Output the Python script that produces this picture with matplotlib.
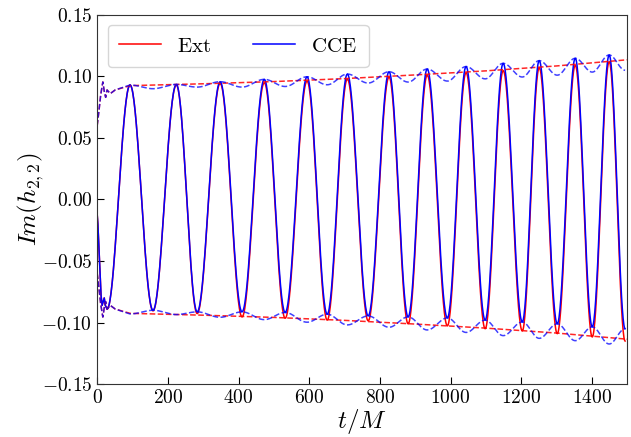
import numpy as np
import matplotlib
matplotlib.use('Agg')
from matplotlib import pyplot as plt
from matplotlib.ticker import FuncFormatter

# Werte
# Anfangsstueck (junk radiation), beide Kurven fast gleich
t_early = [0, 2, 5, 8, 11, 14, 17, 20, 23]
h_early = [-0.012, -0.020, -0.040, -0.062, -0.078, -0.086, -0.083, -0.080, -0.086]

# Zeiten der Maxima und Minima
t_peak = [93, 224, 348, 473, 594, 708, 826, 934, 1044, 1149, 1251, 1353, 1449]
t_trough = [28, 158, 283, 410, 532, 651, 767, 880, 991, 1098, 1203, 1302, 1401, 1494]

# Ext
ext_peak = [0.0930, 0.0930, 0.0943, 0.0948, 0.0962, 0.0978, 0.0995, 0.1010,
            0.1030, 0.1047, 0.1070, 0.1090, 0.1120]
ext_trough = [-0.089, -0.0905, -0.0927, -0.0954, -0.0965, -0.0980, -0.0986, -0.1010,
              -0.1027, -0.1050, -0.1068, -0.1090, -0.1117, -0.1150]

# CCE
cce_peak = [0.0930, 0.0935, 0.0957, 0.0976, 0.0997, 0.1019, 0.1038, 0.1060,
            0.1080, 0.1106, 0.1128, 0.1147, 0.1174]
cce_trough = [-0.089, -0.0900, -0.0913, -0.0913, -0.0918, -0.0932, -0.0946, -0.0954,
              -0.0962, -0.0980, -0.0995, -0.1010, -0.1035, -0.1050]

# Amplitude (gestrichelt)
t_amp_early = [0, 5, 10, 16, 20, 24, 28, 37, 51, 93]
amp_early = [0.060, 0.072, 0.085, 0.0955, 0.088, 0.083, 0.089, 0.086, 0.089, 0.0925]
t_amp_ext = [93, 300, 500, 700, 900, 1100, 1300, 1500]
amp_ext = [0.0925, 0.0940, 0.0958, 0.0982, 0.1012, 0.1045, 0.1085, 0.1135]


def alternate(tp, hp, tt, ht):
    # Extrema nach Zeit sortiert zusammenfuegen
    pts = sorted(list(zip(tp, hp)) + list(zip(tt, ht)))
    return np.array([p[0] for p in pts]), np.array([p[1] for p in pts])


def joinExtrema(tx, hx, n=40):
    # halbe Kosinuswelle zwischen zwei benachbarten Extrema
    ts, hs = [], []
    for i in range(len(tx) - 1):
        s = np.linspace(0, 1, n, endpoint=False)
        ts.append(tx[i] + (tx[i + 1] - tx[i]) * s)
        hs.append(hx[i] + (hx[i + 1] - hx[i]) * (1 - np.cos(np.pi * s)) / 2)
    ts.append([tx[-1]])
    hs.append([hx[-1]])
    return np.concatenate(ts), np.concatenate(hs)


tx, hx = alternate(t_peak, ext_peak, t_trough, ext_trough)
t_ext, h_ext = joinExtrema(tx, hx)
t_ext = np.concatenate((t_early, t_ext))
h_ext = np.concatenate((h_early, h_ext))

tc, hc = alternate(t_peak, cce_peak, t_trough, cce_trough)
t_cce, h_cce = joinExtrema(tc, hc)
t_cce = np.concatenate((t_early, t_cce))
h_cce = np.concatenate((h_early, h_cce))

# Betrag CCE: Maxima bei den Peaks, Minima bei den Taelern
ta, ha = alternate(t_peak, cce_peak, t_trough[1:], np.abs(cce_trough[1:]))
t_acce, a_cce = joinExtrema(ta, ha)
t_acce = np.concatenate((t_amp_early[:-1], t_acce))
a_cce = np.concatenate((amp_early[:-1], a_cce))

t_aext = np.concatenate((t_amp_early[:-1], t_amp_ext))
a_ext = np.concatenate((amp_early[:-1], amp_ext))

plt.rcParams['mathtext.fontset'] = 'cm'
plt.rcParams['font.family'] = 'serif'

fig = plt.figure(figsize=(6.31, 4.37), dpi=100)
ax = fig.add_axes([0.154, 0.121, 0.840, 0.845])

ax.plot(t_ext, h_ext, c='r', lw=1.1, label=r'$\mathrm{Ext}$')
ax.plot(t_cce, h_cce, c='b', lw=1.1, label=r'$\mathrm{CCE}$')
ax.plot(t_aext, a_ext, c='r', ls='--', lw=1.1, alpha=0.85)
ax.plot(t_aext, -a_ext, c='r', ls='--', lw=1.1, alpha=0.85)
ax.plot(t_acce, a_cce, c='b', ls='--', lw=1.1, alpha=0.75)
ax.plot(t_acce, -a_cce, c='b', ls='--', lw=1.1, alpha=0.75)

ax.set_xlim(0, 1500)
ax.set_ylim(-0.15, 0.15)
ax.set_yticks(np.arange(-0.15, 0.151, 0.05))
ax.set_xticks(np.arange(0, 1401, 200))
ax.xaxis.set_major_formatter(FuncFormatter(lambda v, p: r'$%d$' % v))
ax.yaxis.set_major_formatter(FuncFormatter(lambda v, p: r'$%.2f$' % v))
ax.tick_params(direction='in', length=5, labelsize=14)
for s in ax.spines.values():
    s.set_color('#333333')

ax.set_xlabel(r'$t/M$', fontsize=18, labelpad=0)
ax.set_ylabel(r'$Im(h_{2,2})$', fontsize=18, labelpad=-3)
ax.legend(loc='upper left', ncol=2, fontsize=15, handlelength=2.0,
          handletextpad=0.8, columnspacing=2.0, borderpad=0.55, framealpha=0.8)

fig.savefig('out.png', dpi=100)
